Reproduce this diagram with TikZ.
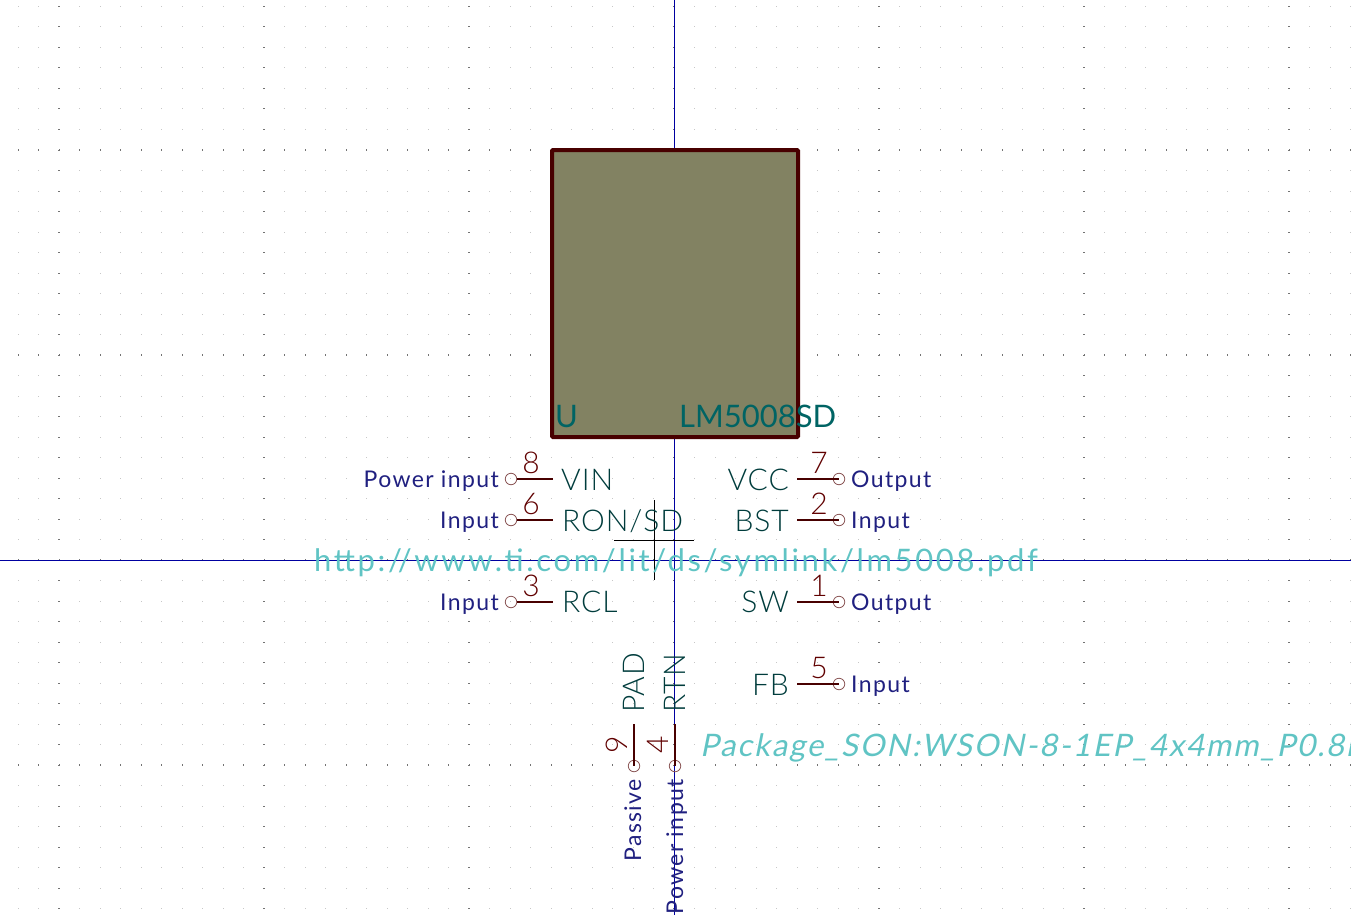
\documentclass[tikz,border=0pt]{standalone}
\usepackage{fontspec}
\setmainfont{Lato Light}
\newfontfamily\pinfont[LetterSpace=3]{Lato Light}
\newfontfamily\typefont[LetterSpace=6]{Lato}
\newfontfamily\urlfont[LetterSpace=8.5]{Lato}
\newfontfamily\valfont{Lato}
\newfontfamily\pkgfont[LetterSpace=6,FakeSlant=0.2]{Lato}
\definecolor{bodyfill}{HTML}{828262}
\definecolor{bodyline}{HTML}{480000}
\definecolor{pinname}{HTML}{003C3C}
\definecolor{refname}{HTML}{006464}
\definecolor{pkgtext}{HTML}{60C4C4}
\definecolor{typetext}{HTML}{202080}
\definecolor{numtext}{HTML}{600000}
\definecolor{axisblue}{HTML}{0000A0}
\definecolor{pincirc}{HTML}{8A5555}
\tikzset{
  pinline/.style={bodyline, line width=2pt},
  pinhead/.style={circle, draw=pincirc, line width=0.8pt, minimum size=11.5pt, inner sep=0pt},
  pinlabel/.style={text=pinname, inner sep=0pt, font=\fontsize{30}{30}\pinfont},
  pintype/.style={text=typetext, inner sep=0pt, font=\fontsize{23}{23}\typefont},
  pinnum/.style={text=numtext, inner sep=0pt, font=\fontsize{30}{30}\selectfont},
  reftext/.style={text=refname, inner sep=0pt, anchor=base west, font=\fontsize{31}{31}\valfont},
  linktext/.style={text=pkgtext, inner sep=0pt, font=\fontsize{31}{31}\urlfont},
}
\begin{document}
\begin{tikzpicture}[x=1pt,y=-1pt]
        \useasboundingbox (0,0) rectangle (1351,915);

        % grid
        \foreach \i in {-33,...,33}
          \foreach \j in {-27,...,17}
            \fill[black!22] ({674+\i*20.5-0.5},{560+\j*20.5-0.5}) rectangle ++(1,1);
        \foreach \i in {-30,-20,...,30}
          \foreach \j in {-27,...,17}
            \fill[black!55] ({674+\i*20.5-1},{560+\j*20.5-0.5}) rectangle ++(2,1);
        \foreach \j in {-20,-10,...,10}
          \foreach \i in {-33,...,33}
            \fill[black!55] ({674+\i*20.5-0.5},{560+\j*20.5-1}) rectangle ++(1,2);

        % axes
        \coordinate (axistop) at (674,0);
        \coordinate (axisbot) at (674,915);
        \coordinate (axisleft) at (0,560);
        \coordinate (axisright) at (1351,560);
        \draw[axisblue, line width=1pt] (axisleft) -- (axisright);
        \draw[axisblue, line width=1pt] (axistop) -- (axisbot);

        % anchor cross
        \coordinate (crossl) at (614,540);
        \coordinate (crossr) at (694,540);
        \coordinate (crosst) at (654,500);
        \coordinate (crossb) at (654,580);
        \draw[black, line width=0.8pt] (crossl) -- (crossr);
        \draw[black, line width=0.8pt] (crosst) -- (crossb);

        % body
        \node[draw=bodyline, fill=bodyfill, line width=4pt, rounded corners=1pt,
              minimum width=246pt, minimum height=287pt, inner sep=0pt] (chip) at (675,293.5) {};

        % left pins
        \node[pinhead] (p8) at (511,479) {};
        \coordinate (e8) at (552.5,479);
        \draw[pinline] (p8) -- (e8);
        \node[pinhead] (p6) at (511,520) {};
        \coordinate (e6) at (552.5,520);
        \draw[pinline] (p6) -- (e6);
        \node[pinhead] (p3) at (511,602) {};
        \coordinate (e3) at (552.5,602);
        \draw[pinline] (p3) -- (e3);

        % right pins
        \node[pinhead] (p7) at (839,479) {};
        \coordinate (e7) at (797,479);
        \draw[pinline] (e7) -- (p7.center);
        \node[pinhead] (p2) at (839,520) {};
        \coordinate (e2) at (797,520);
        \draw[pinline] (e2) -- (p2.center);
        \node[pinhead] (p1) at (839,602) {};
        \coordinate (e1) at (797,602);
        \draw[pinline] (e1) -- (p1.center);
        \node[pinhead] (p5) at (839,684) {};
        \coordinate (e5) at (797,684);
        \draw[pinline] (e5) -- (p5.center);

        % bottom pins
        \node[pinhead] (p9) at (634,766) {};
        \coordinate (e9) at (634,724);
        \draw[pinline] (e9) -- (p9.center);
        \node[pinhead] (p4) at (675,766) {};
        \coordinate (e4) at (675,724);
        \draw[pinline] (e4) -- (p4.center);

        % numbers
        \node[pinnum] (n8) at (531,463) {8};
        \node[pinnum] (n6) at (531,504) {6};
        \node[pinnum] (n3) at (531,586) {3};
        \node[pinnum] (n7) at (819,463) {7};
        \node[pinnum] (n2) at (819,504) {2};
        \node[pinnum] (n1) at (819,586) {1};
        \node[pinnum] (n5) at (819,668) {5};
        \node[pinnum, rotate=90] (n9) at (617,745) {9};
        \node[pinnum, rotate=90] (n4) at (658,745) {4};

        % pin names
        \node[pinlabel, anchor=base west] (vin) at (561,490) {VIN};
        \node[pinlabel, anchor=base west] (ron) at (562,531) {RON/SD};
        \node[pinlabel, anchor=base west] (rcl) at (562,612) {RCL};
        \node[pinlabel, anchor=base east] (vcc) at (789,490) {VCC};
        \node[pinlabel, anchor=base east] (bst) at (789,531) {BST};
        \node[pinlabel, anchor=base east] (sw) at (789,612) {SW};
        \node[pinlabel, anchor=base east] (fb) at (789,695) {FB};
        \node[pinlabel, anchor=base west, rotate=90] (pad) at (644,713) {PAD};
        \node[pinlabel, anchor=base west, rotate=90] (rtn) at (685,713) {RTN};

        % pin types
        \node[pintype, anchor=base east] (t8) at (499,487) {Power input};
        \node[pintype, anchor=base east] (t6) at (499,528) {Input};
        \node[pintype, anchor=base east] (t3) at (499,610) {Input};
        \node[pintype, anchor=base west] (t7) at (851,487) {Output};
        \node[pintype, anchor=base west] (t2) at (851,528) {Input};
        \node[pintype, anchor=base west] (t1) at (851,610) {Output};
        \node[pintype, anchor=base west] (t5) at (851,692) {Input};
        \node[pintype, anchor=base east, rotate=90] (t9) at (641,779) {Passive};
        \node[pintype, anchor=base east, rotate=90] (t4) at (683,779) {Power input};

        % fields
        \node[reftext] (ref) at (555,427) {U};
        \node[reftext] (val) at (679,427) {LM5008SD};
        \node[linktext, anchor=base] (url) at (676,571) {http://www.ti.com/lit/ds/symlink/lm5008.pdf};
        \begin{scope}
          \clip (0,0) rectangle (1351,915);
          \node[linktext, anchor=base west, font=\fontsize{31}{31}\pkgfont] (fp) at (700,756) {Package\_SON:WSON-8-1EP\_4x4mm\_P0.8mm};
        \end{scope}
\end{tikzpicture}
\end{document}
